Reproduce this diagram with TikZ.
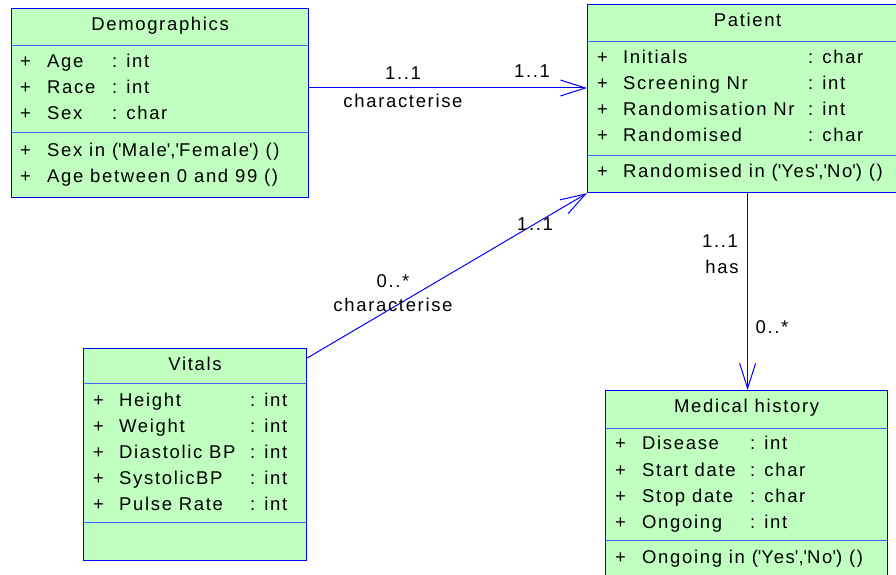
\documentclass[tikz,border=0pt]{standalone}
\usepackage{fontspec}
\setmainfont{Liberation Sans}[LetterSpace=9]
\usetikzlibrary{arrows.meta}
\definecolor{classfill}{RGB}{192,255,192}
\definecolor{classline}{RGB}{0,0,255}
\definecolor{divline}{RGB}{64,96,255}
\newcommand{\aps}{\textquotesingle}
\tikzset{
	classbox/.style={draw=classline,line width=1.2pt,fill=classfill,inner sep=0pt,anchor=north west},
	divider/.style={draw=divline,line width=1pt},
	txt/.style={inner sep=0pt,anchor=base west,font=\fontsize{18.5}{21}\selectfont},
	ttl/.style={txt,anchor=base},
	lbl/.style={inner sep=0pt,font=\fontsize{18.5}{21}\selectfont},
	assoc/.style={draw=classline,line width=1pt,-{Straight Barb[length=25pt,width=16pt,line width=1pt]}}
}

\begin{document}
\begin{tikzpicture}[x=1pt,y=-1pt]
	\clip (0,0) rectangle (896,575);

	\node[classbox,minimum width=297pt,minimum height=189pt] (demog) at (11,8) {};
	\draw[divider] (demog.west |- 0,46) -- (demog.east |- 0,46);
	\draw[divider] (demog.west |- 0,132) -- (demog.east |- 0,132);
	\node[ttl] (demogT) at (demog.north |- 0,31) {Demographics};
	\foreach \n/\t/\y [count=\i] in {Age/int/68,Race/int/94,Sex/char/120} {
		\node[txt] (demogP\i) at (20,\y) {+};
		\node[txt] (demogN\i) at (47,\y) {\n};
		\node[txt] (demogC\i) at (112,\y) {: \t};
	}
	\node[txt] (demogP4) at (20,156) {+}; \node[txt] (demogO1) at (47,156) {Sex in (\aps Male\aps,\aps Female\aps) ()};
	\node[txt] (demogP5) at (20,182) {+}; \node[txt] (demogO2) at (47,182) {Age between 0 and 99 ()};

	\node[classbox,minimum width=320pt,minimum height=188pt] (patient) at (587,4) {};
	\draw[divider] (patient.west |- 0,42) -- (patient.east |- 0,42);
	\draw[divider] (patient.west |- 0,155) -- (patient.east |- 0,155);
	\node[ttl] (patientT) at (patient.north |- 0,27) {Patient};
	\foreach \n/\t/\y [count=\i] in {Initials/char/64,Screening Nr/int/90,Randomisation Nr/int/116,Randomised/char/142} {
		\node[txt] (patientP\i) at (597,\y) {+};
		\node[txt] (patientN\i) at (623,\y) {\n};
		\node[txt] (patientC\i) at (808,\y) {: \t};
	}
	\node[txt] (patientP5) at (597,177) {+}; \node[txt] (patientO1) at (623,177) {Randomised in (\aps Yes\aps,\aps No\aps) ()};

	\node[classbox,minimum width=223pt,minimum height=212pt] (vitals) at (83,348) {};
	\draw[divider] (vitals.west |- 0,383) -- (vitals.east |- 0,383);
	\draw[divider] (vitals.west |- 0,522) -- (vitals.east |- 0,522);
	\node[ttl] (vitalsT) at (vitals.north |- 0,370) {Vitals};
	\foreach \n/\y [count=\i] in {Height/406,Weight/432,Diastolic BP/458,SystolicBP/484,Pulse Rate/510} {
		\node[txt] (vitalsP\i) at (93,\y) {+};
		\node[txt] (vitalsN\i) at (119,\y) {\n};
		\node[txt] (vitalsC\i) at (250,\y) {: int};
	}

	\node[classbox,minimum width=282pt,minimum height=195pt] (medical) at (605,390) {};
	\draw[divider] (medical.west |- 0,428) -- (medical.east |- 0,428);
	\draw[divider] (medical.west |- 0,540) -- (medical.east |- 0,540);
	\node[ttl] (medicalT) at (medical.north |- 0,412) {Medical history};
	\foreach \n/\t/\y [count=\i] in {Disease/int/449,Start date/char/476,Stop date/char/502,Ongoing/int/528} {
		\node[txt] (medicalP\i) at (615,\y) {+};
		\node[txt] (medicalN\i) at (642,\y) {\n};
		\node[txt] (medicalC\i) at (750,\y) {: \t};
	}
	\node[txt] (medicalP5) at (615,563) {+}; \node[txt] (medicalO1) at (642,563) {Ongoing in (\aps Yes\aps,\aps No\aps) ()};

	\draw[assoc] (demog.east |- 0,88) -- (patient.west |- 0,88);
	\draw[assoc] (vitals.east |- 0,358) -- (patient.south west);
	\draw[assoc] (patient.south) -- (patient.south |- medical.north);

	\node[lbl] (demogMul) at (403,73) {1..1};
	\node[lbl] (demogRole) at (403,101) {characterise};
	\node[lbl] (patientMulA) at (532,71) {1..1};
	\node[lbl] (patientMulB) at (535,224) {1..1};
	\node[lbl] (vitalsMul) at (393,281) {0..*};
	\node[lbl] (vitalsRole) at (393,305) {characterise};
	\node[lbl] (patientMulC) at (720,241) {1..1};
	\node[lbl] (patientRole) at (722,267) {has};
	\node[lbl] (medicalMul) at (772,327) {0..*};
\end{tikzpicture}
\end{document}
